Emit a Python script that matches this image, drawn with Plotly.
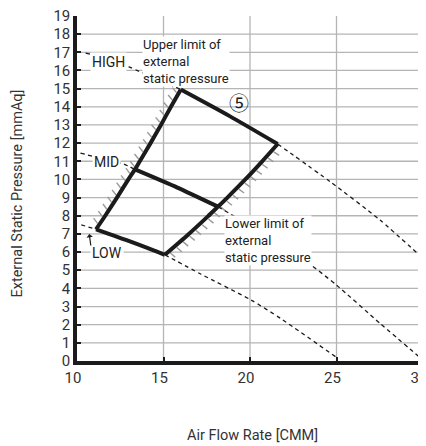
import numpy as np
import plotly.graph_objects as go

# ---------------- data ----------------
x_ticks = [10, 15, 20, 25, 30]
y_ticks = list(range(0, 20))

# upper limit of external static pressure (left edge, LOW -> HIGH)
upper_x = [11.1, 11.63, 12.31, 12.97, 13.35, 13.63, 14.25, 14.85, 15.43, 16.0]
upper_y = [7.25, 8.0, 9.0, 10.0, 10.55, 11.0, 12.0, 13.0, 14.0, 14.95]

# lower limit of external static pressure (right edge, LOW -> HIGH)
lower_x = [15.08, 16.4, 17.55, 18.15, 18.65, 19.7, 20.68, 21.6]
lower_y = [5.85, 6.94, 7.95, 8.5, 8.96, 9.97, 10.97, 11.95]

# fan curves, solid part inside the operating range
high_x = [16.0, 18.8, 21.6]
high_y = [14.95, 13.5, 11.95]
mid_x = [13.35, 15.8, 18.15]
mid_y = [10.55, 9.55, 8.5]
low_x = [11.1, 13.1, 15.08]
low_y = [7.25, 6.57, 5.85]

# fan curves, dashed extensions (left of upper limit)
high_ext_x = [10.5, 11.2, 13.0, 13.6, 15.2, 16.0]
high_ext_y = [16.95, 16.8, 16.2, 15.95, 15.3, 14.95]
mid_ext_x = [10.2, 11.0, 12.7, 13.35]
mid_ext_y = [11.45, 11.25, 10.85, 10.55]
low_ext_x = [10.25, 11.1]
low_ext_y = [7.5, 7.25]

# fan curves, dashed extensions (right of lower limit)
high_dash_x = [21.6, 24.64, 27.52, 30.0]
high_dash_y = [11.95, 9.87, 7.76, 5.65]
mid_dash_x = [18.15, 20.8, 23.37, 25.0, 27.52, 30.0]
mid_dash_y = [8.5, 7.0, 5.4, 4.18, 2.07, 0.05]
low_dash_x = [15.08, 17.15, 20.06, 21.76, 25.0]
low_dash_y = [5.85, 4.79, 3.36, 2.35, 0.2]

# ---------------- layout constants ----------------
BODY = 8                      # default page margin of the html body
W, H = 426 - BODY, 446 - BODY
M_L, M_R, M_T, M_B = 77 - BODY, 3, 16 - BODY, 85
X_RANGE = [10, 30]
Y_RANGE = [0, 19]
PW = W - M_L - M_R
PH = H - M_T - M_B
SX = PW / (X_RANGE[1] - X_RANGE[0])
SY = PH / (Y_RANGE[1] - Y_RANGE[0])

FONT = "Roboto"
BLACK = "#1b1b1b"
GRID = "#b5b5b5"
HATCH = "#9a9a9a"


def hatch_marks(xs, ys, sign, lean=0.0, step=8.5, start=5.0, stop=4.0, off=2.3, length=6.5):
    X = (np.asarray(xs, float) - X_RANGE[0]) * SX
    Y = (Y_RANGE[1] - np.asarray(ys, float)) * SY
    dX, dY = np.diff(X), np.diff(Y)
    d = np.hypot(dX, dY)
    s = np.concatenate([[0], np.cumsum(d)])
    ca, sa = np.cos(np.radians(lean)), np.sin(np.radians(lean))
    hx, hy = [], []
    for p in np.arange(start, s[-1] - stop, step):
        i = min(max(np.searchsorted(s, p, "right") - 1, 0), len(d) - 1)
        t = (p - s[i]) / d[i]
        px, py = X[i] + t * dX[i], Y[i] + t * dY[i]
        tx, ty = dX[i] / d[i], dY[i] / d[i]
        nx, ny = -ty * sign, tx * sign
        mx, my = ca * nx + sa * tx, ca * ny + sa * ty
        for k in (off, off + length):
            hx.append(X_RANGE[0] + (px + nx * off * 0 + mx * k) / SX)
            hy.append(Y_RANGE[1] - (py + my * k) / SY)
        hx.append(None)
        hy.append(None)
    return hx, hy


fig = go.Figure()

# grid lines
gx, gy = [], []
for yv in y_ticks[1:-1]:
    gx += [X_RANGE[0], X_RANGE[1], None]
    gy += [yv, yv, None]
for xv in x_ticks[1:-1]:
    gx += [xv, xv, None]
    gy += [Y_RANGE[0], Y_RANGE[1], None]
fig.add_trace(go.Scatter(x=gx, y=gy, mode="lines", line=dict(color=GRID, width=1.3),
                         hoverinfo="skip", showlegend=False))

# hatching
h1x, h1y = hatch_marks(upper_x, upper_y, -1, lean=20)
h2x, h2y = hatch_marks(lower_x, lower_y, +1, lean=8)
fig.add_trace(go.Scatter(x=h1x + h2x, y=h1y + h2y, mode="lines",
                         line=dict(color=HATCH, width=1.4), hoverinfo="skip", showlegend=False))

# dashed fan-curve extensions
for xs, ys in [(high_ext_x, high_ext_y), (mid_ext_x, mid_ext_y), (low_ext_x, low_ext_y),
               (high_dash_x, high_dash_y), (mid_dash_x, mid_dash_y), (low_dash_x, low_dash_y)]:
    fig.add_trace(go.Scatter(x=xs, y=ys, mode="lines",
                             line=dict(color=BLACK, width=1.3, dash="4px,3.5px", shape="spline", smoothing=0.6),
                             hoverinfo="skip", showlegend=False))

# operating range (thick)
for xs, ys in [(upper_x, upper_y), (lower_x, lower_y), (high_x, high_y), (mid_x, mid_y), (low_x, low_y)]:
    fig.add_trace(go.Scatter(x=xs, y=ys, mode="lines",
                             line=dict(color=BLACK, width=4, shape="spline", smoothing=0.6),
                             hoverinfo="skip", showlegend=False))

ann = []
lab_font = dict(family=FONT, size=14, color="#222")
ann.append(dict(x=11.81, y=16.47, text="HIGH", showarrow=False, font=lab_font,
                bgcolor="white", borderpad=1, xanchor="center", yanchor="middle"))
ann.append(dict(x=11.72, y=10.98, text="MID", showarrow=False, font=lab_font,
                bgcolor="white", borderpad=1, xanchor="center", yanchor="middle"))
ann.append(dict(x=11.75, y=5.93, text="LOW", showarrow=False, font=lab_font,
                bgcolor="white", borderpad=1, xanchor="center", yanchor="middle"))
ann.append(dict(x=10.71, y=6.99, ax=10.81, ay=6.28, axref="x", ayref="y", text="",
                showarrow=True, arrowhead=1, arrowsize=0.9, arrowwidth=1.2, arrowcolor=BLACK))
blk_font = dict(family=FONT, size=13, color="#222")
ann.append(dict(x=13.75, y=16.5, text="Upper limit of<br>external<br>static pressure",
                showarrow=False, font=blk_font, align="left", bgcolor="white", borderpad=0,
                xanchor="left", yanchor="middle"))
ann.append(dict(x=18.5, y=6.66, text="Lower limit of<br>external<br>static pressure",
                showarrow=False, font=blk_font, align="left", bgcolor="white", borderpad=0,
                xanchor="left", yanchor="middle"))
ann.append(dict(x=19.38, y=14.25, text="⑤", showarrow=False,
                font=dict(family="Noto Sans CJK JP", size=20, color="#222"),
                xanchor="center", yanchor="middle"))
# axis titles
ann.append(dict(x=0, y=0.5, xref="paper", yref="paper", text="External Static Pressure [mmAq]",
                textangle=-90, showarrow=False, font=dict(family=FONT, size=14.5, color="#333"),
                xanchor="center", yanchor="middle", xshift=16.5 - 77, yshift=-5.5))
ann.append(dict(x=0.5, y=0, xref="paper", yref="paper", text="Air Flow Rate [CMM]",
                showarrow=False, font=dict(family=FONT, size=14.5, color="#333"),
                xanchor="center", yanchor="middle", xshift=2.8, yshift=-74))

axis_common = dict(showgrid=False, zeroline=False, showline=True, linewidth=3.5, linecolor=BLACK,
                   ticks="inside", ticklen=4, tickwidth=2, tickcolor=BLACK, automargin=False,
                   ticklabeloverflow="allow",
                   tickfont=dict(family=FONT, size=15, color="#333"), fixedrange=True)
fig.update_layout(
    width=W, height=H, margin=dict(l=M_L, r=M_R, t=M_T, b=M_B),
    paper_bgcolor="white", plot_bgcolor="white",
    xaxis=dict(range=X_RANGE, tickvals=x_ticks, ticklabelshift=-4, **axis_common),
    yaxis=dict(range=Y_RANGE, tickvals=y_ticks, **axis_common),
    annotations=ann, showlegend=False,
)
fig.write_html("out.html")
